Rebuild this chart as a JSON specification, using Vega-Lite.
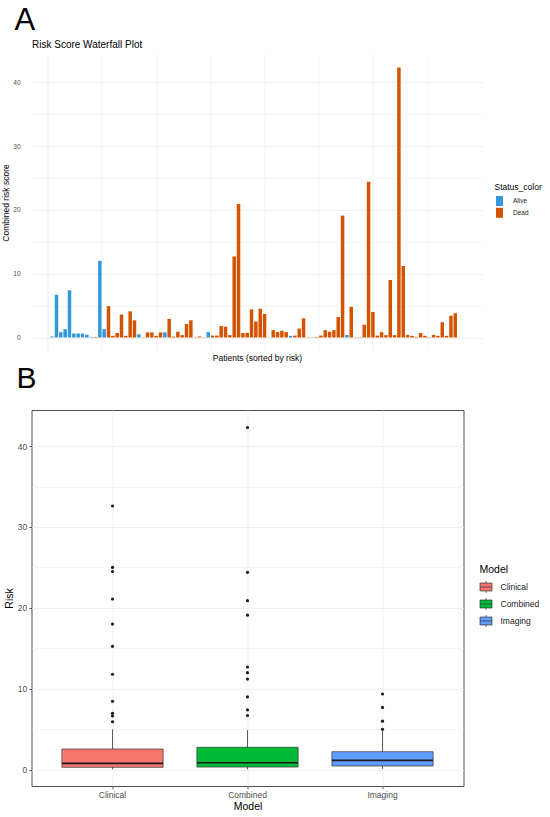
{
  "$schema": "https://vega.github.io/schema/vega-lite/v6.json",
  "padding": {"left": 1.5, "top": 5, "right": 0, "bottom": 0},
  "background": "white",
  "config": {
    "font": "Liberation Sans",
    "title": {"font": "Liberation Sans", "fontWeight": "normal", "color": "#000000"},
    "axis": {"labelFont": "Liberation Sans", "titleFont": "Liberation Sans", "titleFontWeight": "normal"},
    "legend": {"labelFont": "Liberation Sans", "titleFont": "Liberation Sans", "titleFontWeight": "normal"}
  },
  "datasets": {
    "patients": [
      {"Patient": 1, "Risk": 0.16, "Status": "Alive"},
      {"Patient": 2, "Risk": 6.7, "Status": "Alive"},
      {"Patient": 3, "Risk": 0.84, "Status": "Alive"},
      {"Patient": 4, "Risk": 1.3, "Status": "Alive"},
      {"Patient": 5, "Risk": 7.4, "Status": "Alive"},
      {"Patient": 6, "Risk": 0.63, "Status": "Alive"},
      {"Patient": 7, "Risk": 0.63, "Status": "Alive"},
      {"Patient": 8, "Risk": 0.63, "Status": "Alive"},
      {"Patient": 9, "Risk": 0.42, "Status": "Alive"},
      {"Patient": 10, "Risk": 0.1, "Status": "Alive"},
      {"Patient": 11, "Risk": 0.1, "Status": "Dead"},
      {"Patient": 12, "Risk": 12.0, "Status": "Alive"},
      {"Patient": 13, "Risk": 1.3, "Status": "Alive"},
      {"Patient": 14, "Risk": 4.9, "Status": "Dead"},
      {"Patient": 15, "Risk": 0.26, "Status": "Dead"},
      {"Patient": 16, "Risk": 0.7, "Status": "Dead"},
      {"Patient": 17, "Risk": 3.6, "Status": "Dead"},
      {"Patient": 18, "Risk": 0.26, "Status": "Dead"},
      {"Patient": 19, "Risk": 4.1, "Status": "Dead"},
      {"Patient": 20, "Risk": 2.7, "Status": "Dead"},
      {"Patient": 21, "Risk": 0.5, "Status": "Alive"},
      {"Patient": 22, "Risk": 0.05, "Status": "Dead"},
      {"Patient": 23, "Risk": 0.8, "Status": "Dead"},
      {"Patient": 24, "Risk": 0.8, "Status": "Dead"},
      {"Patient": 25, "Risk": 0.26, "Status": "Dead"},
      {"Patient": 26, "Risk": 0.8, "Status": "Dead"},
      {"Patient": 27, "Risk": 0.8, "Status": "Alive"},
      {"Patient": 28, "Risk": 2.9, "Status": "Dead"},
      {"Patient": 29, "Risk": 0.15, "Status": "Dead"},
      {"Patient": 30, "Risk": 0.9, "Status": "Dead"},
      {"Patient": 31, "Risk": 0.37, "Status": "Dead"},
      {"Patient": 32, "Risk": 2.1, "Status": "Dead"},
      {"Patient": 33, "Risk": 2.7, "Status": "Dead"},
      {"Patient": 34, "Risk": 0.05, "Status": "Dead"},
      {"Patient": 35, "Risk": 0.16, "Status": "Dead"},
      {"Patient": 36, "Risk": 0.05, "Status": "Dead"},
      {"Patient": 37, "Risk": 0.84, "Status": "Alive"},
      {"Patient": 38, "Risk": 0.3, "Status": "Dead"},
      {"Patient": 39, "Risk": 0.3, "Status": "Dead"},
      {"Patient": 40, "Risk": 1.8, "Status": "Dead"},
      {"Patient": 41, "Risk": 1.7, "Status": "Dead"},
      {"Patient": 42, "Risk": 0.37, "Status": "Dead"},
      {"Patient": 43, "Risk": 12.7, "Status": "Dead"},
      {"Patient": 44, "Risk": 20.9, "Status": "Dead"},
      {"Patient": 45, "Risk": 0.7, "Status": "Dead"},
      {"Patient": 46, "Risk": 0.73, "Status": "Dead"},
      {"Patient": 47, "Risk": 4.4, "Status": "Dead"},
      {"Patient": 48, "Risk": 2.5, "Status": "Dead"},
      {"Patient": 49, "Risk": 4.5, "Status": "Dead"},
      {"Patient": 50, "Risk": 3.7, "Status": "Dead"},
      {"Patient": 51, "Risk": 0.02, "Status": "Dead"},
      {"Patient": 52, "Risk": 1.15, "Status": "Dead"},
      {"Patient": 53, "Risk": 0.84, "Status": "Dead"},
      {"Patient": 54, "Risk": 1.05, "Status": "Dead"},
      {"Patient": 55, "Risk": 0.84, "Status": "Dead"},
      {"Patient": 56, "Risk": 0.26, "Status": "Alive"},
      {"Patient": 57, "Risk": 0.3, "Status": "Dead"},
      {"Patient": 58, "Risk": 1.4, "Status": "Dead"},
      {"Patient": 59, "Risk": 3.0, "Status": "Dead"},
      {"Patient": 60, "Risk": 0.05, "Status": "Dead"},
      {"Patient": 61, "Risk": 0.05, "Status": "Dead"},
      {"Patient": 62, "Risk": 0.1, "Status": "Dead"},
      {"Patient": 63, "Risk": 0.3, "Status": "Dead"},
      {"Patient": 64, "Risk": 1.15, "Status": "Dead"},
      {"Patient": 65, "Risk": 0.9, "Status": "Dead"},
      {"Patient": 66, "Risk": 1.15, "Status": "Dead"},
      {"Patient": 67, "Risk": 3.2, "Status": "Dead"},
      {"Patient": 68, "Risk": 19.1, "Status": "Dead"},
      {"Patient": 69, "Risk": 0.4, "Status": "Alive"},
      {"Patient": 70, "Risk": 4.8, "Status": "Dead"},
      {"Patient": 71, "Risk": 0.05, "Status": "Dead"},
      {"Patient": 72, "Risk": 0.05, "Status": "Dead"},
      {"Patient": 73, "Risk": 2.0, "Status": "Dead"},
      {"Patient": 74, "Risk": 24.4, "Status": "Dead"},
      {"Patient": 75, "Risk": 4.0, "Status": "Dead"},
      {"Patient": 76, "Risk": 0.3, "Status": "Dead"},
      {"Patient": 77, "Risk": 0.84, "Status": "Dead"},
      {"Patient": 78, "Risk": 0.37, "Status": "Dead"},
      {"Patient": 79, "Risk": 9.0, "Status": "Dead"},
      {"Patient": 80, "Risk": 0.37, "Status": "Dead"},
      {"Patient": 81, "Risk": 42.3, "Status": "Dead"},
      {"Patient": 82, "Risk": 11.2, "Status": "Dead"},
      {"Patient": 83, "Risk": 0.4, "Status": "Dead"},
      {"Patient": 84, "Risk": 0.26, "Status": "Dead"},
      {"Patient": 85, "Risk": 0.1, "Status": "Dead"},
      {"Patient": 86, "Risk": 0.7, "Status": "Dead"},
      {"Patient": 87, "Risk": 0.26, "Status": "Dead"},
      {"Patient": 88, "Risk": 0.05, "Status": "Dead"},
      {"Patient": 89, "Risk": 0.4, "Status": "Dead"},
      {"Patient": 90, "Risk": 0.26, "Status": "Dead"},
      {"Patient": 91, "Risk": 2.4, "Status": "Dead"},
      {"Patient": 92, "Risk": 0.26, "Status": "Dead"},
      {"Patient": 93, "Risk": 3.4, "Status": "Dead"},
      {"Patient": 94, "Risk": 3.8, "Status": "Dead"}
    ],
    "boxes": [
      {"Model": "Clinical", "lower": 0.05, "q1": 0.3, "median": 0.79, "q3": 2.56, "upper": 5.0},
      {"Model": "Combined", "lower": 0.05, "q1": 0.33, "median": 0.87, "q3": 2.77, "upper": 4.9},
      {"Model": "Imaging", "lower": 0.12, "q1": 0.46, "median": 1.16, "q3": 2.23, "upper": 4.95}
    ],
    "outliers": [
      {"Model": "Clinical", "Risk": 32.6},
      {"Model": "Clinical", "Risk": 25.0},
      {"Model": "Clinical", "Risk": 24.5},
      {"Model": "Clinical", "Risk": 21.1},
      {"Model": "Clinical", "Risk": 18.0},
      {"Model": "Clinical", "Risk": 15.25},
      {"Model": "Clinical", "Risk": 11.8},
      {"Model": "Clinical", "Risk": 8.45},
      {"Model": "Clinical", "Risk": 6.97},
      {"Model": "Clinical", "Risk": 6.64},
      {"Model": "Clinical", "Risk": 5.93},
      {"Model": "Combined", "Risk": 42.3},
      {"Model": "Combined", "Risk": 24.4},
      {"Model": "Combined", "Risk": 20.9},
      {"Model": "Combined", "Risk": 19.1},
      {"Model": "Combined", "Risk": 12.7},
      {"Model": "Combined", "Risk": 12.0},
      {"Model": "Combined", "Risk": 11.2},
      {"Model": "Combined", "Risk": 9.0},
      {"Model": "Combined", "Risk": 7.4},
      {"Model": "Combined", "Risk": 6.7},
      {"Model": "Imaging", "Risk": 9.36},
      {"Model": "Imaging", "Risk": 7.7},
      {"Model": "Imaging", "Risk": 6.0},
      {"Model": "Imaging", "Risk": 5.0}
    ]
  },
  "spacing": 1,
  "resolve": {"scale": {"color": "independent", "x": "independent", "y": "independent"}, "legend": {"color": "independent"}},
  "vconcat": [
    {
      "title": {"text": "A", "fontSize": 31, "anchor": "start", "frame": "group", "dx": -17, "offset": 2, "baseline": "top"},
      "width": 451,
      "height": 297,
      "view": {"stroke": null},
      "resolve": {"axis": {"x": "independent"}},
      "layer": [
        {
          "data": {"name": "patients"},
          "mark": {"type": "bar", "width": 3.5},
          "encoding": {
            "x": {
              "field": "Patient", "type": "quantitative",
              "scale": {"domain": [-2.61, 99.13], "nice": false, "zero": false},
              "axis": {
                "orient": "bottom",
                "values": [0, 12.5, 25, 37.5, 50, 62.5, 75, 87.5],
                "labels": false, "ticks": false, "domain": false,
                "grid": true, "gridColor": "#ebebeb",
                "gridWidth": {"condition": {"test": "datum.value % 25 === 0", "value": 0.8}, "value": 0.45},
                "title": "Patients (sorted by risk)", "titleFontSize": 8.5, "titleColor": "#000000", "titlePadding": 2
              }
            },
            "y": {
              "field": "Risk", "type": "quantitative",
              "scale": {"domain": [-2.115, 44.415], "nice": false, "zero": false},
              "axis": {
                "values": [0, 5, 10, 15, 20, 25, 30, 35, 40],
                "labelExpr": "datum.value % 10 === 0 ? datum.label : ''",
                "ticks": false, "domain": false,
                "grid": true, "gridColor": "#ebebeb",
                "gridWidth": {"condition": {"test": "datum.value % 10 === 0", "value": 0.8}, "value": 0.45},
                "labelFontSize": 6.5, "labelColor": "#4d4d4d", "labelPadding": 11.5,
                "title": "Combined risk score", "titleFontSize": 8.5, "titleColor": "#000000", "titlePadding": 2
              }
            },
            "y2": {"datum": 0},
            "color": {
              "field": "Status", "type": "nominal",
              "scale": {"domain": ["Alive", "Dead"], "range": ["#3498db", "#d35400"]},
              "legend": {
                "title": "Status_color", "orient": "none", "legendX": 463, "legendY": 129,
                "titleFontSize": 8.5, "titleColor": "#000000", "titlePadding": 4.5,
                "labelFontSize": 6.5, "labelColor": "#222222", "labelOffset": 8.5,
                "symbolType": "M-0.7,-1H0.7V1H-0.7Z", "symbolSize": 100,
                "symbolStrokeWidth": 0, "symbolOpacity": 1, "rowPadding": 1.8, "padding": 0
              }
            }
          }
        },
        {
          "data": {"values": []},
          "mark": {"type": "rule"},
          "encoding": {
            "x": {
              "field": "Patient", "type": "quantitative",
              "axis": {
                "orient": "top", "labels": false, "ticks": false, "domain": false, "grid": false,
                "title": "Risk Score Waterfall Plot", "titleAnchor": "start", "titleAlign": "left",
                "titleFontSize": 10, "titleColor": "#000000", "titlePadding": 5
              }
            }
          }
        }
      ]
    },
    {
      "title": {"text": "B", "fontSize": 30, "anchor": "start", "frame": "group", "dx": -15, "offset": 16, "baseline": "top"},
      "width": 432,
      "height": 376,
      "view": {"stroke": "#4d4d4d", "strokeWidth": 1},
      "encoding": {
        "x": {
          "field": "Model", "type": "nominal",
          "scale": {"type": "band", "domain": ["Clinical", "Combined", "Imaging"], "paddingInner": 0, "paddingOuter": 0.1},
          "axis": {
            "labelAngle": 0, "domain": false, "bandPosition": 0.5,
            "ticks": true, "tickSize": 2.75, "tickColor": "#333333", "tickWidth": 0.8,
            "grid": true, "gridColor": "#ebebeb", "gridWidth": 0.8,
            "labelFontSize": 8.5, "labelColor": "#4d4d4d", "labelPadding": 2,
            "title": "Model", "titleFontSize": 10.5, "titleColor": "#000000", "titlePadding": 2.5
          }
        }
      },
      "layer": [
        {
          "data": {"name": "boxes"},
          "mark": {"type": "rule", "color": "#333333", "strokeWidth": 0.8},
          "encoding": {
            "y": {
              "field": "lower", "type": "quantitative",
              "scale": {"domain": [-2.01, 44.46], "nice": false, "zero": false},
              "axis": {
                "values": [0, 5, 10, 15, 20, 25, 30, 35, 40],
                "labelExpr": "datum.value % 10 === 0 ? datum.label : ''",
                "domain": false,
                "ticks": true, "tickSize": 2.75, "tickColor": "#333333", "tickWidth": 0.8,
                "tickOpacity": {"condition": {"test": "datum.value % 10 === 0", "value": 1}, "value": 0},
                "grid": true, "gridColor": "#ebebeb",
                "gridWidth": {"condition": {"test": "datum.value % 10 === 0", "value": 0.8}, "value": 0.45},
                "labelFontSize": 8.5, "labelColor": "#4d4d4d", "labelPadding": 2,
                "title": "Risk", "titleFontSize": 10.5, "titleColor": "#000000", "titlePadding": 2.5
              }
            },
            "y2": {"field": "upper"}
          }
        },
        {
          "data": {"name": "boxes"},
          "mark": {"type": "bar", "width": {"band": 0.75}, "stroke": "#333333", "strokeWidth": 0.7},
          "encoding": {
            "y": {"field": "q1", "type": "quantitative"},
            "y2": {"field": "q3"},
            "color": {
              "field": "Model", "type": "nominal",
              "scale": {"domain": ["Clinical", "Combined", "Imaging"], "range": ["#F8766D", "#00BA38", "#619CFF"]},
              "legend": {
                "title": "Model", "orient": "none", "legendX": 448, "legendY": 155,
                "titleFontSize": 10.5, "titleColor": "#000000", "titlePadding": 5,
                "labelFontSize": 8.5, "labelColor": "#222222", "labelOffset": 8,
                "symbolType": "M-1,-0.66H1V0.66H-1Z M0,-1V-0.66 M0,0.66V1 M-1,0H1",
                "symbolSize": 144, "symbolStrokeColor": "#333333", "symbolStrokeWidth": 0.7,
                "symbolOpacity": 1, "rowPadding": 2, "padding": 0
              }
            }
          }
        },
        {
          "data": {"name": "boxes"},
          "mark": {"type": "tick", "size": 101, "thickness": 1.6, "color": "#1a1a1a", "opacity": 1},
          "encoding": {
            "y": {"field": "median", "type": "quantitative"}
          }
        },
        {
          "data": {"name": "outliers"},
          "mark": {"type": "circle", "size": 10, "color": "#1a1a1a", "opacity": 1},
          "encoding": {
            "y": {"field": "Risk", "type": "quantitative"}
          }
        }
      ]
    }
  ]
}
